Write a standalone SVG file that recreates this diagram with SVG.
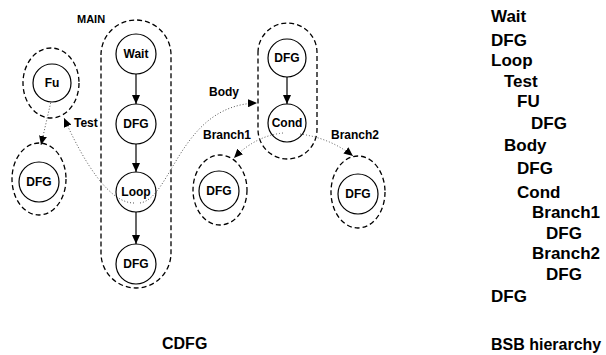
<svg xmlns="http://www.w3.org/2000/svg" width="606" height="355" viewBox="0 0 606 355">
<style>
text{font-family:"Liberation Sans",Arial,sans-serif;font-weight:bold;fill:#000}
.n{font-size:12px;text-anchor:middle}
.l{font-size:12px}
.h{font-size:16px}
.t{font-size:17px}
.c{fill:#fff;stroke:#000;stroke-width:1.2}
.d{fill:none;stroke:#000;stroke-width:1.3;stroke-dasharray:5 3}
.s{fill:none;stroke:#000;stroke-width:1.2}
.p{fill:none;stroke:#555;stroke-width:1;stroke-dasharray:1 2}
</style>
<defs>
<marker id="a" markerUnits="userSpaceOnUse" markerWidth="10" markerHeight="8" refX="9" refY="4" orient="auto"><path d="M0,0 L9,4 L0,8 Z" fill="#000"/></marker>
</defs>
<rect width="606" height="355" fill="#fff"/>
<g id="groups">
<path class="d" d="M101,55 A35,35 0 0 1 171,55 L171,253 A35,35 0 0 1 101,253 Z"/>
<path class="d" d="M258,52.5 A29.5,29.5 0 0 1 317,52.5 L317,129.5 A29.5,29.5 0 0 1 258,129.5 Z"/>
<ellipse class="d" cx="51" cy="83" rx="28" ry="35"/>
<ellipse class="d" cx="39" cy="179" rx="27" ry="36"/>
<ellipse class="d" cx="220" cy="190" rx="27" ry="35"/>
<ellipse class="d" cx="358" cy="192" rx="27" ry="36"/>
<text class="l" x="77" y="23" style="font-size:11px">MAIN</text>
</g>
<g id="connectors">
<line class="s" x1="136" y1="74" x2="136" y2="104" marker-end="url(#a)"/>
<line class="s" x1="136" y1="144" x2="136" y2="172" marker-end="url(#a)"/>
<line class="s" x1="136" y1="212" x2="136" y2="244" marker-end="url(#a)"/>
<line class="s" x1="287" y1="77" x2="287" y2="104" marker-end="url(#a)"/>
<path class="p" d="M52,97 L41,145" marker-end="url(#a)"/>
<path class="p" d="M134,203 C110,203 85,165 64,118" marker-end="url(#a)"/>
<path class="p" d="M140,203 C172,198 180,105 257,103" marker-end="url(#a)"/>
<path class="p" d="M283,133 Q255,136 234,158" marker-end="url(#a)"/>
<path class="p" d="M300,134 Q330,138 353,156" marker-end="url(#a)"/>
<text class="l" x="74" y="127">Test</text>
<text class="l" x="209" y="96">Body</text>
<text class="l" x="203" y="139">Branch1</text>
<text class="l" x="331" y="139">Branch2</text>
</g>
<g id="fu"><circle class="c" cx="52" cy="83" r="19"/><text class="n" x="52" y="87">Fu</text></g>
<g id="dfg-fu"><circle class="c" cx="39" cy="182" r="20"/><text class="n" x="39" y="186">DFG</text></g>
<g id="wait"><circle class="c" cx="136" cy="54" r="20"/><text class="n" x="136" y="58">Wait</text></g>
<g id="dfg1"><circle class="c" cx="136" cy="124" r="20"/><text class="n" x="136" y="128">DFG</text></g>
<g id="loop"><circle class="c" cx="136" cy="192" r="20" fill-opacity="0"/><text class="n" x="136" y="196">Loop</text></g>
<g id="dfg2"><circle class="c" cx="136" cy="264" r="20"/><text class="n" x="136" y="268">DFG</text></g>
<g id="dfg-body"><circle class="c" cx="287" cy="58" r="19"/><text class="n" x="287" y="62">DFG</text></g>
<g id="cond"><circle class="c" cx="287" cy="123" r="19" fill-opacity="0"/><text class="n" x="287" y="127">Cond</text></g>
<g id="dfg-b1"><circle class="c" cx="219" cy="191" r="20"/><text class="n" x="219" y="195">DFG</text></g>
<g id="dfg-b2"><circle class="c" cx="358" cy="194" r="20"/><text class="n" x="358" y="198">DFG</text></g>
<g id="hierarchy">
<text class="t" x="491" y="22">Wait</text>
<text class="t" x="491" y="46">DFG</text>
<text class="t" x="491" y="66">Loop</text>
<text class="t" x="504" y="87">Test</text>
<text class="t" x="517" y="107">FU</text>
<text class="t" x="531" y="129">DFG</text>
<text class="t" x="504" y="151">Body</text>
<text class="t" x="517" y="174">DFG</text>
<text class="t" x="517" y="198">Cond</text>
<text class="t" x="532" y="218">Branch1</text>
<text class="t" x="546" y="239">DFG</text>
<text class="t" x="532" y="259">Branch2</text>
<text class="t" x="546" y="280">DFG</text>
<text class="t" x="491" y="302">DFG</text>
</g>
<text class="h" x="162" y="349">CDFG</text>
<text class="h" x="491" y="350">BSB hierarchy</text>
</svg>
